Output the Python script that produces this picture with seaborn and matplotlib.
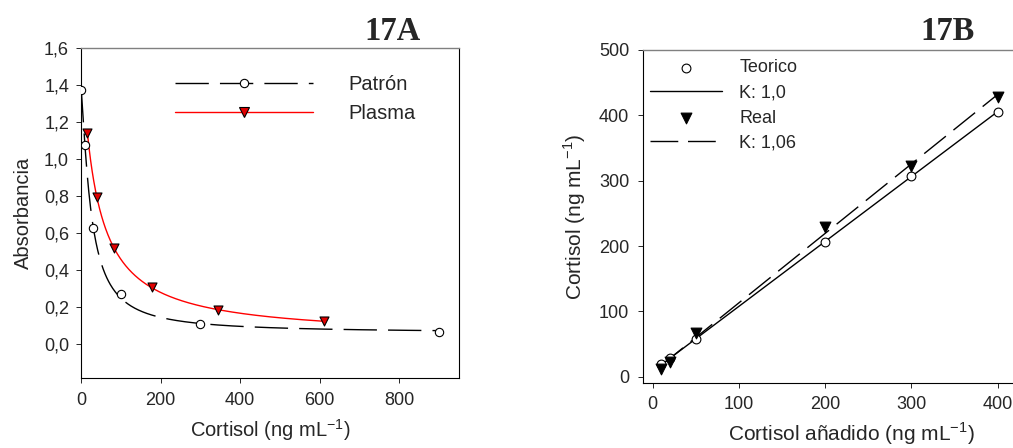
import numpy as np
import matplotlib
matplotlib.use("Agg")
import matplotlib.pyplot as plt
import seaborn as sns
from matplotlib.lines import Line2D
from matplotlib.ticker import FuncFormatter

# Panel 17A: curvas de calibración (absorbancia)
patron_x = [0, 10, 30, 100, 300, 900]
patron_y = [1.375, 1.08, 0.63, 0.27, 0.11, 0.065]
plasma_x = [16, 40, 83, 178, 345, 610]
plasma_y = [1.142, 0.795, 0.519, 0.308, 0.185, 0.126]

# Panel 17B: recuperación de cortisol añadido
anadido = [10, 20, 50, 200, 300, 400]
teorico = [19, 28, 58.5, 205.7, 307.7, 405.6]
real = [12, 23, 67, 229.6, 323, 428.6]


def ajuste_4pl(x, y):
    """Ajuste logístico de 4 parámetros (búsqueda en rejilla para b y c, lineal para a y d)."""
    x = np.asarray(x, float)
    y = np.asarray(y, float)
    mejor = None
    for c in np.logspace(0, 3, 250):
        for b in np.linspace(0.3, 3.0, 110):
            g = 1.0 / (1.0 + (x / c) ** b)
            A = np.column_stack([g, 1 - g])
            coef = np.linalg.lstsq(A, y, rcond=None)[0]
            err = np.sum((A @ coef - y) ** 2)
            if mejor is None or err < mejor[0]:
                mejor = (err, coef[0], coef[1], b, c)
    _, a, d, b, c = mejor
    return lambda t: d + (a - d) / (1.0 + (np.asarray(t, float) / c) ** b)


sns.set_style("ticks")
plt.rcParams["font.family"] = ["Liberation Sans", "DejaVu Sans"]
plt.rcParams["mathtext.fontset"] = "custom"
plt.rcParams["mathtext.rm"] = "Liberation Sans"

fig = plt.figure(figsize=(10.13, 4.48), dpi=100)
ax1 = fig.add_axes([0.0800, 0.1569, 0.3731, 0.7353])
ax2 = fig.add_axes([0.6350, 0.1444, 0.4104, 0.7440])

raya_a = (0, (24, 8))
raya_b = (0, (20, 7))

# ---- 17A ----
f_patron = ajuste_4pl(patron_x, patron_y)
f_plasma = ajuste_4pl(plasma_x, plasma_y)
xp = np.linspace(min(patron_x), max(patron_x), 600)
xq = np.linspace(min(plasma_x), max(plasma_x), 600)
sns.lineplot(x=xp, y=f_patron(xp), ax=ax1, color="black", lw=1, linestyle=raya_a)
sns.lineplot(x=xq, y=f_plasma(xq), ax=ax1, color="red", lw=1)
sns.scatterplot(x=patron_x, y=patron_y, ax=ax1, marker="o", s=36, color="white",
                edgecolor="black", linewidth=0.8, zorder=3)
sns.scatterplot(x=plasma_x, y=plasma_y, ax=ax1, marker="v", s=42, color="#e00000",
                edgecolor="black", linewidth=0.8, zorder=3)

ax1.set_xlim(0, 950)
ax1.set_ylim(-0.18, 1.6)
ax1.set_xticks([0, 200, 400, 600, 800])
ax1.set_yticks(np.arange(0, 1.61, 0.2))
ax1.yaxis.set_major_formatter(FuncFormatter(lambda v, p: f"{v:.1f}".replace(".", ",")))
ax1.set_xlabel(r"Cortisol (ng mL$^{-1}$)", fontsize=14.5)
ax1.set_ylabel("Absorbancia", fontsize=14.5)
ax1.xaxis.set_label_coords(0.5, -0.12)
ax1.yaxis.set_label_coords(-0.128, 0.5)
ax1.tick_params(axis="x", direction="out", length=3.6, width=0.7, labelsize=13, pad=7)
ax1.tick_params(axis="y", direction="out", length=3.6, width=0.7, labelsize=13, pad=5)

prox = [
    Line2D([], [], color="black", lw=1, linestyle=raya_a, marker="o", markersize=6,
           markerfacecolor="white", markeredgecolor="black", markeredgewidth=0.8),
    Line2D([], [], color="red", lw=1, marker="v", markersize=6.5,
           markerfacecolor="#e00000", markeredgecolor="black", markeredgewidth=0.8),
]
ax1.legend(prox, ["Patrón", "Plasma"], loc="upper left", bbox_to_anchor=(0.249, 0.918),
           frameon=False, fontsize=14.5, handlelength=6.85, handletextpad=1.74,
           borderpad=0, borderaxespad=0, labelspacing=0.5, numpoints=1)

# ---- 17B ----
sns.scatterplot(x=anadido, y=teorico, ax=ax2, marker="o", s=40, color="white",
                edgecolor="black", linewidth=0.8, zorder=3, label="Teorico")
sns.regplot(x=anadido, y=teorico, ax=ax2, scatter=False, ci=None, color="black",
            line_kws=dict(lw=1), label="K: 1,0")
sns.scatterplot(x=anadido, y=real, ax=ax2, marker="v", s=60, color="black",
                edgecolor="black", linewidth=0.8, zorder=3, label="Real")
sns.regplot(x=anadido, y=real, ax=ax2, scatter=False, ci=None, color="black",
            line_kws=dict(lw=1, linestyle=raya_b), label="K: 1,06")

ax2.set_xlim(-11, 471)
ax2.set_ylim(-10, 500)
ax2.set_xticks([0, 100, 200, 300, 400])
ax2.set_yticks([0, 100, 200, 300, 400, 500])
ax2.set_xlabel(r"Cortisol añadido (ng mL$^{-1}$)", fontsize=15)
ax2.set_ylabel(r"Cortisol (ng mL$^{-1}$)", fontsize=15)
ax2.xaxis.set_label_coords(0.5, -0.112)
ax2.yaxis.set_label_coords(-0.134, 0.5)
ax2.tick_params(axis="x", direction="out", length=3.6, width=0.7, labelsize=13, pad=5.5)
ax2.tick_params(axis="y", direction="out", length=3.6, width=0.7, labelsize=13, pad=6.5)
ax2.legend(loc="upper left", bbox_to_anchor=(0.016, 0.972), frameon=False, fontsize=13,
           handlelength=4.0, handletextpad=0.96, borderpad=0, borderaxespad=0,
           labelspacing=0.45, numpoints=1)

for ax in (ax1, ax2):
    for lado in ("left", "bottom", "right"):
        ax.spines[lado].set_color("black")
        ax.spines[lado].set_linewidth(0.8)
    ax.spines["top"].set_color("#808080")
    ax.spines["top"].set_linewidth(1.0)
    ax.set_facecolor("white")

# Títulos de panel
fig.text(0.4156, 0.9107, "17A", ha="right", va="baseline", fontsize=23.5,
         fontweight="bold", family="Liberation Serif")
fig.text(0.9625, 0.9107, "17B", ha="right", va="baseline", fontsize=23.5,
         fontweight="bold", family="Liberation Serif")

fig.savefig("out.png", dpi=100, facecolor="white")
